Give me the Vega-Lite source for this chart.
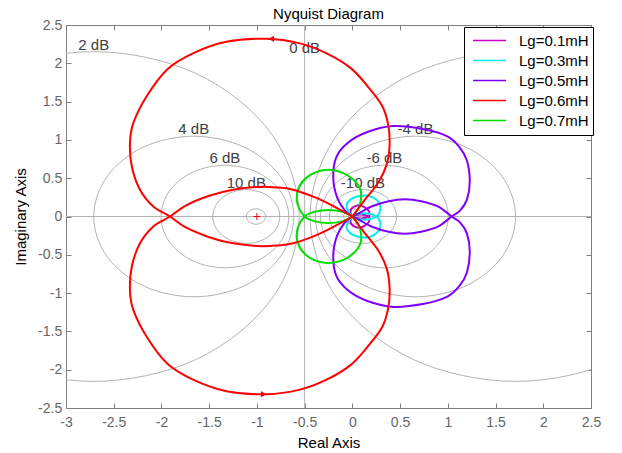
{
"$schema": "https://vega.github.io/schema/vega-lite/v6.json",
"width": 525,
"height": 383,
"autosize": {"type": "none"},
"padding": {"left": 66, "top": 25, "right": 31, "bottom": 45},
"background": "white",
"title": {"text": "Nyquist Diagram", "fontSize": 15, "fontWeight": "normal", "font": "Liberation Sans", "color": "black", "offset": 3.5, "dy": 7},
"config": {
  "view": {"stroke": "#7f7f7f", "strokeWidth": 1},
  "axis": {"grid": false, "domain": false, "tickColor": "#7f7f7f", "tickSize": -5, "labelFont": "Liberation Sans", "labelFontSize": 14, "labelColor": "#666666", "titleFont": "Liberation Sans", "titleFontSize": 15, "titleFontWeight": "normal", "titleColor": "black", "labelFlush": false, "labelOverlap": false}
},
"datasets": {
"grid": [
{"id":"p2","i":0,"x":-0.5574,"y":0},{"id":"p2","i":1,"x":-0.8457,"y":1.0762},{"id":"p2","i":2,"x":-1.6336,"y":1.8641},{"id":"p2","i":3,"x":-2.7098,"y":2.1524},{"id":"p2","i":4,"x":-3.786,"y":1.8641},{"id":"p2","i":5,"x":-4.5738,"y":1.0762},{"id":"p2","i":6,"x":-4.8622,"y":0},{"id":"p2","i":7,"x":-4.5738,"y":-1.0762},{"id":"p2","i":8,"x":-3.786,"y":-1.8641},{"id":"p2","i":9,"x":-2.7098,"y":-2.1524},{"id":"p2","i":10,"x":-1.6336,"y":-1.8641},{"id":"p2","i":11,"x":-0.8457,"y":-1.0762},
{"id":"m2","i":0,"x":3.8622,"y":0},{"id":"m2","i":1,"x":3.5738,"y":1.0762},{"id":"m2","i":2,"x":2.786,"y":1.8641},{"id":"m2","i":3,"x":1.7098,"y":2.1524},{"id":"m2","i":4,"x":0.6336,"y":1.8641},{"id":"m2","i":5,"x":-0.1543,"y":1.0762},{"id":"m2","i":6,"x":-0.4426,"y":0},{"id":"m2","i":7,"x":-0.1543,"y":-1.0762},{"id":"m2","i":8,"x":0.6336,"y":-1.8641},{"id":"m2","i":9,"x":1.7098,"y":-2.1524},{"id":"m2","i":10,"x":2.786,"y":-1.8641},{"id":"m2","i":11,"x":3.5738,"y":-1.0762},
{"id":"p4","i":0,"x":-0.6131,"y":0},{"id":"p4","i":1,"x":-0.7536,"y":0.5242},{"id":"p4","i":2,"x":-1.1373,"y":0.9079},{"id":"p4","i":3,"x":-1.6614,"y":1.0483},{"id":"p4","i":4,"x":-2.1856,"y":0.9079},{"id":"p4","i":5,"x":-2.5693,"y":0.5242},{"id":"p4","i":6,"x":-2.7097,"y":0},{"id":"p4","i":7,"x":-2.5693,"y":-0.5242},{"id":"p4","i":8,"x":-2.1856,"y":-0.9079},{"id":"p4","i":9,"x":-1.6614,"y":-1.0483},{"id":"p4","i":10,"x":-1.1373,"y":-0.9079},{"id":"p4","i":11,"x":-0.7536,"y":-0.5242},
{"id":"m4","i":0,"x":1.7097,"y":0},{"id":"m4","i":1,"x":1.5693,"y":0.5242},{"id":"m4","i":2,"x":1.1856,"y":0.9079},{"id":"m4","i":3,"x":0.6614,"y":1.0483},{"id":"m4","i":4,"x":0.1373,"y":0.9079},{"id":"m4","i":5,"x":-0.2464,"y":0.5242},{"id":"m4","i":6,"x":-0.3869,"y":0},{"id":"m4","i":7,"x":-0.2464,"y":-0.5242},{"id":"m4","i":8,"x":0.1373,"y":-0.9079},{"id":"m4","i":9,"x":0.6614,"y":-1.0483},{"id":"m4","i":10,"x":1.1856,"y":-0.9079},{"id":"m4","i":11,"x":1.5693,"y":-0.5242},
{"id":"p6","i":0,"x":-0.6661,"y":0},{"id":"p6","i":1,"x":-0.7558,"y":0.3347},{"id":"p6","i":2,"x":-1.0008,"y":0.5797},{"id":"p6","i":3,"x":-1.3355,"y":0.6693},{"id":"p6","i":4,"x":-1.6701,"y":0.5797},{"id":"p6","i":5,"x":-1.9151,"y":0.3347},{"id":"p6","i":6,"x":-2.0048,"y":0},{"id":"p6","i":7,"x":-1.9151,"y":-0.3347},{"id":"p6","i":8,"x":-1.6701,"y":-0.5797},{"id":"p6","i":9,"x":-1.3355,"y":-0.6693},{"id":"p6","i":10,"x":-1.0008,"y":-0.5797},{"id":"p6","i":11,"x":-0.7558,"y":-0.3347},
{"id":"m6","i":0,"x":1.0048,"y":0},{"id":"m6","i":1,"x":0.9151,"y":0.3347},{"id":"m6","i":2,"x":0.6701,"y":0.5797},{"id":"m6","i":3,"x":0.3355,"y":0.6693},{"id":"m6","i":4,"x":0.0008,"y":0.5797},{"id":"m6","i":5,"x":-0.2442,"y":0.3347},{"id":"m6","i":6,"x":-0.3339,"y":0},{"id":"m6","i":7,"x":-0.2442,"y":-0.3347},{"id":"m6","i":8,"x":0.0008,"y":-0.5797},{"id":"m6","i":9,"x":0.3355,"y":-0.6693},{"id":"m6","i":10,"x":0.6701,"y":-0.5797},{"id":"m6","i":11,"x":0.9151,"y":-0.3347},
{"id":"p10","i":0,"x":-0.7598,"y":0},{"id":"p10","i":1,"x":-0.8068,"y":0.1757},{"id":"p10","i":2,"x":-0.9354,"y":0.3043},{"id":"p10","i":3,"x":-1.1111,"y":0.3514},{"id":"p10","i":4,"x":-1.2868,"y":0.3043},{"id":"p10","i":5,"x":-1.4154,"y":0.1757},{"id":"p10","i":6,"x":-1.4625,"y":0},{"id":"p10","i":7,"x":-1.4154,"y":-0.1757},{"id":"p10","i":8,"x":-1.2868,"y":-0.3043},{"id":"p10","i":9,"x":-1.1111,"y":-0.3514},{"id":"p10","i":10,"x":-0.9354,"y":-0.3043},{"id":"p10","i":11,"x":-0.8068,"y":-0.1757},
{"id":"m10","i":0,"x":0.4625,"y":0},{"id":"m10","i":1,"x":0.4154,"y":0.1757},{"id":"m10","i":2,"x":0.2868,"y":0.3043},{"id":"m10","i":3,"x":0.1111,"y":0.3514},{"id":"m10","i":4,"x":-0.0646,"y":0.3043},{"id":"m10","i":5,"x":-0.1932,"y":0.1757},{"id":"m10","i":6,"x":-0.2402,"y":0},{"id":"m10","i":7,"x":-0.1932,"y":-0.1757},{"id":"m10","i":8,"x":-0.0646,"y":-0.3043},{"id":"m10","i":9,"x":0.1111,"y":-0.3514},{"id":"m10","i":10,"x":0.2868,"y":-0.3043},{"id":"m10","i":11,"x":0.4154,"y":-0.1757},
{"id":"p20","i":0,"x":-0.9091,"y":0},{"id":"p20","i":1,"x":-0.9226,"y":0.0505},{"id":"p20","i":2,"x":-0.9596,"y":0.0875},{"id":"p20","i":3,"x":-1.0101,"y":0.101},{"id":"p20","i":4,"x":-1.0606,"y":0.0875},{"id":"p20","i":5,"x":-1.0976,"y":0.0505},{"id":"p20","i":6,"x":-1.1111,"y":0},{"id":"p20","i":7,"x":-1.0976,"y":-0.0505},{"id":"p20","i":8,"x":-1.0606,"y":-0.0875},{"id":"p20","i":9,"x":-1.0101,"y":-0.101},{"id":"p20","i":10,"x":-0.9596,"y":-0.0875},{"id":"p20","i":11,"x":-0.9226,"y":-0.0505},
{"id":"m20","i":0,"x":0.1111,"y":0},{"id":"m20","i":1,"x":0.0976,"y":0.0505},{"id":"m20","i":2,"x":0.0606,"y":0.0875},{"id":"m20","i":3,"x":0.0101,"y":0.101},{"id":"m20","i":4,"x":-0.0404,"y":0.0875},{"id":"m20","i":5,"x":-0.0774,"y":0.0505},{"id":"m20","i":6,"x":-0.0909,"y":0},{"id":"m20","i":7,"x":-0.0774,"y":-0.0505},{"id":"m20","i":8,"x":-0.0404,"y":-0.0875},{"id":"m20","i":9,"x":0.0101,"y":-0.101},{"id":"m20","i":10,"x":0.0606,"y":-0.0875},{"id":"m20","i":11,"x":0.0976,"y":-0.0505}
],
"lines": [
{"id":"h","i":0,"x":-3,"y":0},{"id":"h","i":1,"x":2.5,"y":0},
{"id":"v","i":0,"x":-0.5,"y":-2.5},{"id":"v","i":1,"x":-0.5,"y":2.5}
],
"labels": [
{"t":"2 dB","x":-2.7098,"y":2.1524},
{"t":"0 dB","x":-0.5,"y":2.11},
{"t":"4 dB","x":-1.6614,"y":1.0483},
{"t":"6 dB","x":-1.3355,"y":0.6693},
{"t":"10 dB","x":-1.1111,"y":0.3514},
{"t":"-4 dB","x":0.6614,"y":1.0483},
{"t":"-6 dB","x":0.3355,"y":0.6693},
{"t":"-10 dB","x":0.1111,"y":0.3514}
],
"curves": [
{"s":"Lg=0.1mH","g":"a1","i":0,"x":0,"y":0},{"s":"Lg=0.1mH","g":"a1","i":1,"x":-0.02,"y":0.05},{"s":"Lg=0.1mH","g":"a1","i":2,"x":-0.01,"y":0.1},{"s":"Lg=0.1mH","g":"a1","i":3,"x":0.03,"y":0.135},{"s":"Lg=0.1mH","g":"a1","i":4,"x":0.08,"y":0.145},{"s":"Lg=0.1mH","g":"a1","i":5,"x":0.13,"y":0.12},{"s":"Lg=0.1mH","g":"a1","i":6,"x":0.17,"y":0.075},{"s":"Lg=0.1mH","g":"a1","i":7,"x":0.18,"y":0.03},{"s":"Lg=0.1mH","g":"a1","i":8,"x":0.17,"y":0},{"s":"Lg=0.1mH","g":"a1","i":9,"x":0.1,"y":-0.025},{"s":"Lg=0.1mH","g":"a1","i":10,"x":0.04,"y":-0.02},{"s":"Lg=0.1mH","g":"a1","i":11,"x":0,"y":0},
{"s":"Lg=0.1mH","g":"a2","i":0,"x":0,"y":0},{"s":"Lg=0.1mH","g":"a2","i":1,"x":0.04,"y":0.02},{"s":"Lg=0.1mH","g":"a2","i":2,"x":0.1,"y":0.025},{"s":"Lg=0.1mH","g":"a2","i":3,"x":0.17,"y":0},{"s":"Lg=0.1mH","g":"a2","i":4,"x":0.18,"y":-0.03},{"s":"Lg=0.1mH","g":"a2","i":5,"x":0.17,"y":-0.075},{"s":"Lg=0.1mH","g":"a2","i":6,"x":0.13,"y":-0.12},{"s":"Lg=0.1mH","g":"a2","i":7,"x":0.08,"y":-0.145},{"s":"Lg=0.1mH","g":"a2","i":8,"x":0.03,"y":-0.135},{"s":"Lg=0.1mH","g":"a2","i":9,"x":-0.01,"y":-0.1},{"s":"Lg=0.1mH","g":"a2","i":10,"x":-0.02,"y":-0.05},{"s":"Lg=0.1mH","g":"a2","i":11,"x":0,"y":0},
{"s":"Lg=0.3mH","g":"b1","i":0,"x":0,"y":0},{"s":"Lg=0.3mH","g":"b1","i":1,"x":-0.045,"y":0.07},{"s":"Lg=0.3mH","g":"b1","i":2,"x":-0.06,"y":0.15},{"s":"Lg=0.3mH","g":"b1","i":3,"x":-0.02,"y":0.22},{"s":"Lg=0.3mH","g":"b1","i":4,"x":0.05,"y":0.26},{"s":"Lg=0.3mH","g":"b1","i":5,"x":0.14,"y":0.275},{"s":"Lg=0.3mH","g":"b1","i":6,"x":0.22,"y":0.245},{"s":"Lg=0.3mH","g":"b1","i":7,"x":0.28,"y":0.18},{"s":"Lg=0.3mH","g":"b1","i":8,"x":0.295,"y":0.11},{"s":"Lg=0.3mH","g":"b1","i":9,"x":0.28,"y":0.04},{"s":"Lg=0.3mH","g":"b1","i":10,"x":0.25,"y":0},{"s":"Lg=0.3mH","g":"b1","i":11,"x":0.18,"y":-0.035},{"s":"Lg=0.3mH","g":"b1","i":12,"x":0.1,"y":-0.04},{"s":"Lg=0.3mH","g":"b1","i":13,"x":0.04,"y":-0.025},{"s":"Lg=0.3mH","g":"b1","i":14,"x":0,"y":0},
{"s":"Lg=0.3mH","g":"b2","i":0,"x":0,"y":0},{"s":"Lg=0.3mH","g":"b2","i":1,"x":0.04,"y":0.025},{"s":"Lg=0.3mH","g":"b2","i":2,"x":0.1,"y":0.04},{"s":"Lg=0.3mH","g":"b2","i":3,"x":0.18,"y":0.035},{"s":"Lg=0.3mH","g":"b2","i":4,"x":0.25,"y":0},{"s":"Lg=0.3mH","g":"b2","i":5,"x":0.28,"y":-0.04},{"s":"Lg=0.3mH","g":"b2","i":6,"x":0.295,"y":-0.11},{"s":"Lg=0.3mH","g":"b2","i":7,"x":0.28,"y":-0.18},{"s":"Lg=0.3mH","g":"b2","i":8,"x":0.22,"y":-0.245},{"s":"Lg=0.3mH","g":"b2","i":9,"x":0.14,"y":-0.275},{"s":"Lg=0.3mH","g":"b2","i":10,"x":0.05,"y":-0.26},{"s":"Lg=0.3mH","g":"b2","i":11,"x":-0.02,"y":-0.22},{"s":"Lg=0.3mH","g":"b2","i":12,"x":-0.06,"y":-0.15},{"s":"Lg=0.3mH","g":"b2","i":13,"x":-0.045,"y":-0.07},{"s":"Lg=0.3mH","g":"b2","i":14,"x":0,"y":0},
{"s":"Lg=0.5mH","g":"c1","i":0,"x":0,"y":0},{"s":"Lg=0.5mH","g":"c1","i":1,"x":-0.08,"y":0.08},{"s":"Lg=0.5mH","g":"c1","i":2,"x":-0.16,"y":0.25},{"s":"Lg=0.5mH","g":"c1","i":3,"x":-0.2,"y":0.5},{"s":"Lg=0.5mH","g":"c1","i":4,"x":-0.17,"y":0.77},{"s":"Lg=0.5mH","g":"c1","i":5,"x":-0.05,"y":0.96},{"s":"Lg=0.5mH","g":"c1","i":6,"x":0.15,"y":1.1},{"s":"Lg=0.5mH","g":"c1","i":7,"x":0.43,"y":1.18},{"s":"Lg=0.5mH","g":"c1","i":8,"x":0.75,"y":1.14},{"s":"Lg=0.5mH","g":"c1","i":9,"x":0.99,"y":1.05},{"s":"Lg=0.5mH","g":"c1","i":10,"x":1.12,"y":0.91},{"s":"Lg=0.5mH","g":"c1","i":11,"x":1.2,"y":0.73},{"s":"Lg=0.5mH","g":"c1","i":12,"x":1.23,"y":0.46},{"s":"Lg=0.5mH","g":"c1","i":13,"x":1.2,"y":0.22},{"s":"Lg=0.5mH","g":"c1","i":14,"x":1.13,"y":0.08},{"s":"Lg=0.5mH","g":"c1","i":15,"x":1.04,"y":0},{"s":"Lg=0.5mH","g":"c1","i":16,"x":0.9,"y":-0.13},{"s":"Lg=0.5mH","g":"c1","i":17,"x":0.72,"y":-0.2},{"s":"Lg=0.5mH","g":"c1","i":18,"x":0.55,"y":-0.225},{"s":"Lg=0.5mH","g":"c1","i":19,"x":0.38,"y":-0.2},{"s":"Lg=0.5mH","g":"c1","i":20,"x":0.2,"y":-0.13},{"s":"Lg=0.5mH","g":"c1","i":21,"x":0.08,"y":-0.05},{"s":"Lg=0.5mH","g":"c1","i":22,"x":0,"y":0},
{"s":"Lg=0.5mH","g":"c2","i":0,"x":0,"y":0},{"s":"Lg=0.5mH","g":"c2","i":1,"x":0.08,"y":0.05},{"s":"Lg=0.5mH","g":"c2","i":2,"x":0.2,"y":0.13},{"s":"Lg=0.5mH","g":"c2","i":3,"x":0.38,"y":0.2},{"s":"Lg=0.5mH","g":"c2","i":4,"x":0.55,"y":0.225},{"s":"Lg=0.5mH","g":"c2","i":5,"x":0.72,"y":0.2},{"s":"Lg=0.5mH","g":"c2","i":6,"x":0.9,"y":0.13},{"s":"Lg=0.5mH","g":"c2","i":7,"x":1.04,"y":0},{"s":"Lg=0.5mH","g":"c2","i":8,"x":1.13,"y":-0.08},{"s":"Lg=0.5mH","g":"c2","i":9,"x":1.2,"y":-0.22},{"s":"Lg=0.5mH","g":"c2","i":10,"x":1.23,"y":-0.46},{"s":"Lg=0.5mH","g":"c2","i":11,"x":1.2,"y":-0.73},{"s":"Lg=0.5mH","g":"c2","i":12,"x":1.12,"y":-0.91},{"s":"Lg=0.5mH","g":"c2","i":13,"x":0.99,"y":-1.05},{"s":"Lg=0.5mH","g":"c2","i":14,"x":0.75,"y":-1.14},{"s":"Lg=0.5mH","g":"c2","i":15,"x":0.43,"y":-1.18},{"s":"Lg=0.5mH","g":"c2","i":16,"x":0.15,"y":-1.1},{"s":"Lg=0.5mH","g":"c2","i":17,"x":-0.05,"y":-0.96},{"s":"Lg=0.5mH","g":"c2","i":18,"x":-0.17,"y":-0.77},{"s":"Lg=0.5mH","g":"c2","i":19,"x":-0.2,"y":-0.5},{"s":"Lg=0.5mH","g":"c2","i":20,"x":-0.16,"y":-0.25},{"s":"Lg=0.5mH","g":"c2","i":21,"x":-0.08,"y":-0.08},{"s":"Lg=0.5mH","g":"c2","i":22,"x":0,"y":0},
{"s":"Lg=0.7mH","g":"e1","i":0,"x":0,"y":0},{"s":"Lg=0.7mH","g":"e1","i":1,"x":0.06,"y":0.1},{"s":"Lg=0.7mH","g":"e1","i":2,"x":0.09,"y":0.22},{"s":"Lg=0.7mH","g":"e1","i":3,"x":0.085,"y":0.35},{"s":"Lg=0.7mH","g":"e1","i":4,"x":0.02,"y":0.47},{"s":"Lg=0.7mH","g":"e1","i":5,"x":-0.1,"y":0.57},{"s":"Lg=0.7mH","g":"e1","i":6,"x":-0.25,"y":0.61},{"s":"Lg=0.7mH","g":"e1","i":7,"x":-0.4,"y":0.57},{"s":"Lg=0.7mH","g":"e1","i":8,"x":-0.52,"y":0.46},{"s":"Lg=0.7mH","g":"e1","i":9,"x":-0.58,"y":0.3},{"s":"Lg=0.7mH","g":"e1","i":10,"x":-0.57,"y":0.14},{"s":"Lg=0.7mH","g":"e1","i":11,"x":-0.5,"y":0},{"s":"Lg=0.7mH","g":"e1","i":12,"x":-0.4,"y":-0.06},{"s":"Lg=0.7mH","g":"e1","i":13,"x":-0.25,"y":-0.085},{"s":"Lg=0.7mH","g":"e1","i":14,"x":-0.1,"y":-0.06},{"s":"Lg=0.7mH","g":"e1","i":15,"x":0,"y":0},
{"s":"Lg=0.7mH","g":"e2","i":0,"x":0,"y":0},{"s":"Lg=0.7mH","g":"e2","i":1,"x":-0.1,"y":0.06},{"s":"Lg=0.7mH","g":"e2","i":2,"x":-0.25,"y":0.085},{"s":"Lg=0.7mH","g":"e2","i":3,"x":-0.4,"y":0.06},{"s":"Lg=0.7mH","g":"e2","i":4,"x":-0.5,"y":0},{"s":"Lg=0.7mH","g":"e2","i":5,"x":-0.57,"y":-0.14},{"s":"Lg=0.7mH","g":"e2","i":6,"x":-0.58,"y":-0.3},{"s":"Lg=0.7mH","g":"e2","i":7,"x":-0.52,"y":-0.46},{"s":"Lg=0.7mH","g":"e2","i":8,"x":-0.4,"y":-0.57},{"s":"Lg=0.7mH","g":"e2","i":9,"x":-0.25,"y":-0.61},{"s":"Lg=0.7mH","g":"e2","i":10,"x":-0.1,"y":-0.57},{"s":"Lg=0.7mH","g":"e2","i":11,"x":0.02,"y":-0.47},{"s":"Lg=0.7mH","g":"e2","i":12,"x":0.085,"y":-0.35},{"s":"Lg=0.7mH","g":"e2","i":13,"x":0.09,"y":-0.22},{"s":"Lg=0.7mH","g":"e2","i":14,"x":0.06,"y":-0.1},{"s":"Lg=0.7mH","g":"e2","i":15,"x":0,"y":0},
{"s":"Lg=0.6mH","g":"d1","i":0,"x":0,"y":0},{"s":"Lg=0.6mH","g":"d1","i":1,"x":0.12,"y":0.2},{"s":"Lg=0.6mH","g":"d1","i":2,"x":0.27,"y":0.44},{"s":"Lg=0.6mH","g":"d1","i":3,"x":0.36,"y":0.68},{"s":"Lg=0.6mH","g":"d1","i":4,"x":0.39,"y":0.93},{"s":"Lg=0.6mH","g":"d1","i":5,"x":0.375,"y":1.2},{"s":"Lg=0.6mH","g":"d1","i":6,"x":0.31,"y":1.45},{"s":"Lg=0.6mH","g":"d1","i":7,"x":0.16,"y":1.7},{"s":"Lg=0.6mH","g":"d1","i":8,"x":-0.02,"y":1.94},{"s":"Lg=0.6mH","g":"d1","i":9,"x":-0.27,"y":2.13},{"s":"Lg=0.6mH","g":"d1","i":10,"x":-0.55,"y":2.26},{"s":"Lg=0.6mH","g":"d1","i":11,"x":-0.9,"y":2.32},{"s":"Lg=0.6mH","g":"d1","i":12,"x":-1.32,"y":2.28},{"s":"Lg=0.6mH","g":"d1","i":13,"x":-1.67,"y":2.13},{"s":"Lg=0.6mH","g":"d1","i":14,"x":-1.94,"y":1.92},{"s":"Lg=0.6mH","g":"d1","i":15,"x":-2.155,"y":1.57},{"s":"Lg=0.6mH","g":"d1","i":16,"x":-2.295,"y":1.22},{"s":"Lg=0.6mH","g":"d1","i":17,"x":-2.33,"y":0.96},{"s":"Lg=0.6mH","g":"d1","i":18,"x":-2.31,"y":0.65},{"s":"Lg=0.6mH","g":"d1","i":19,"x":-2.225,"y":0.35},{"s":"Lg=0.6mH","g":"d1","i":20,"x":-2.085,"y":0.13},{"s":"Lg=0.6mH","g":"d1","i":21,"x":-1.91,"y":0},{"s":"Lg=0.6mH","g":"d1","i":22,"x":-1.75,"y":-0.14},{"s":"Lg=0.6mH","g":"d1","i":23,"x":-1.5,"y":-0.27},{"s":"Lg=0.6mH","g":"d1","i":24,"x":-1.25,"y":-0.35},{"s":"Lg=0.6mH","g":"d1","i":25,"x":-1.0,"y":-0.385},{"s":"Lg=0.6mH","g":"d1","i":26,"x":-0.8,"y":-0.38},{"s":"Lg=0.6mH","g":"d1","i":27,"x":-0.62,"y":-0.35},{"s":"Lg=0.6mH","g":"d1","i":28,"x":-0.37,"y":-0.24},{"s":"Lg=0.6mH","g":"d1","i":29,"x":-0.16,"y":-0.11},{"s":"Lg=0.6mH","g":"d1","i":30,"x":0,"y":0},
{"s":"Lg=0.6mH","g":"d2","i":0,"x":0,"y":0},{"s":"Lg=0.6mH","g":"d2","i":1,"x":-0.16,"y":0.11},{"s":"Lg=0.6mH","g":"d2","i":2,"x":-0.37,"y":0.24},{"s":"Lg=0.6mH","g":"d2","i":3,"x":-0.62,"y":0.35},{"s":"Lg=0.6mH","g":"d2","i":4,"x":-0.8,"y":0.38},{"s":"Lg=0.6mH","g":"d2","i":5,"x":-1.0,"y":0.385},{"s":"Lg=0.6mH","g":"d2","i":6,"x":-1.25,"y":0.35},{"s":"Lg=0.6mH","g":"d2","i":7,"x":-1.5,"y":0.27},{"s":"Lg=0.6mH","g":"d2","i":8,"x":-1.75,"y":0.14},{"s":"Lg=0.6mH","g":"d2","i":9,"x":-1.91,"y":0},{"s":"Lg=0.6mH","g":"d2","i":10,"x":-2.085,"y":-0.13},{"s":"Lg=0.6mH","g":"d2","i":11,"x":-2.225,"y":-0.35},{"s":"Lg=0.6mH","g":"d2","i":12,"x":-2.31,"y":-0.65},{"s":"Lg=0.6mH","g":"d2","i":13,"x":-2.33,"y":-0.96},{"s":"Lg=0.6mH","g":"d2","i":14,"x":-2.295,"y":-1.22},{"s":"Lg=0.6mH","g":"d2","i":15,"x":-2.155,"y":-1.57},{"s":"Lg=0.6mH","g":"d2","i":16,"x":-1.94,"y":-1.92},{"s":"Lg=0.6mH","g":"d2","i":17,"x":-1.67,"y":-2.13},{"s":"Lg=0.6mH","g":"d2","i":18,"x":-1.32,"y":-2.28},{"s":"Lg=0.6mH","g":"d2","i":19,"x":-0.9,"y":-2.32},{"s":"Lg=0.6mH","g":"d2","i":20,"x":-0.55,"y":-2.26},{"s":"Lg=0.6mH","g":"d2","i":21,"x":-0.27,"y":-2.13},{"s":"Lg=0.6mH","g":"d2","i":22,"x":-0.02,"y":-1.94},{"s":"Lg=0.6mH","g":"d2","i":23,"x":0.16,"y":-1.7},{"s":"Lg=0.6mH","g":"d2","i":24,"x":0.31,"y":-1.45},{"s":"Lg=0.6mH","g":"d2","i":25,"x":0.375,"y":-1.2},{"s":"Lg=0.6mH","g":"d2","i":26,"x":0.39,"y":-0.93},{"s":"Lg=0.6mH","g":"d2","i":27,"x":0.36,"y":-0.68},{"s":"Lg=0.6mH","g":"d2","i":28,"x":0.27,"y":-0.44},{"s":"Lg=0.6mH","g":"d2","i":29,"x":0.12,"y":-0.2},{"s":"Lg=0.6mH","g":"d2","i":30,"x":0,"y":0}
],
"arrows": [
{"dir":"left","x":-0.85,"y":2.32},
{"dir":"right","x":-0.93,"y":-2.32}
],
"critical": [
{"x":-1,"y":0}
]
},
"layer": [
{
 "data": {"name": "grid"},
 "mark": {"type": "line", "interpolate": "cardinal-closed", "stroke": "#b3b3b3", "strokeWidth": 1, "clip": true},
 "encoding": {
  "x": {"field": "x", "type": "quantitative", "scale": {"domain": [-3, 2.5], "nice": false, "zero": false},
        "axis": {"orient": "bottom", "title": "Real Axis", "values": [-3,-2.5,-2,-1.5,-1,-0.5,0,0.5,1,1.5,2,2.5], "labelExpr": "toString(datum.value)", "labelPadding": 12.7, "titlePadding": 6}},
  "y": {"field": "y", "type": "quantitative", "scale": {"domain": [-2.5, 2.5], "nice": false, "zero": false},
        "axis": {"orient": "left", "title": "Imaginary Axis", "values": [-2.5,-2,-1.5,-1,-0.5,0,0.5,1,1.5,2,2.5], "labelExpr": "toString(datum.value)", "labelPadding": 9.3, "titlePadding": 9}},
  "detail": {"field": "id"},
  "order": {"field": "i", "type": "quantitative"}
 }
},
{
 "data": {"name": "lines"},
 "mark": {"type": "line", "stroke": "#b3b3b3", "strokeWidth": 1, "clip": true},
 "encoding": {
  "x": {"field": "x", "type": "quantitative", "scale": {"domain": [-3, 2.5], "nice": false, "zero": false}, "axis": null},
  "y": {"field": "y", "type": "quantitative", "scale": {"domain": [-2.5, 2.5], "nice": false, "zero": false}, "axis": null},
  "detail": {"field": "id"},
  "order": {"field": "i", "type": "quantitative"}
 }
},
{
 "data": {"name": "labels"},
 "mark": {"type": "text", "align": "center", "baseline": "alphabetic", "dy": -2, "font": "Liberation Sans", "fontSize": 15, "color": "#404040"},
 "encoding": {
  "x": {"field": "x", "type": "quantitative", "scale": {"domain": [-3, 2.5], "nice": false, "zero": false}, "axis": null},
  "y": {"field": "y", "type": "quantitative", "scale": {"domain": [-2.5, 2.5], "nice": false, "zero": false}, "axis": null},
  "text": {"field": "t"}
 }
},
{
 "data": {"name": "curves"},
 "mark": {"type": "line", "interpolate": "cardinal", "strokeWidth": 2, "clip": true},
 "encoding": {
  "x": {"field": "x", "type": "quantitative", "scale": {"domain": [-3, 2.5], "nice": false, "zero": false}, "axis": null},
  "y": {"field": "y", "type": "quantitative", "scale": {"domain": [-2.5, 2.5], "nice": false, "zero": false}, "axis": null},
  "color": {"field": "s", "type": "nominal",
   "scale": {"domain": ["Lg=0.1mH","Lg=0.3mH","Lg=0.5mH","Lg=0.6mH","Lg=0.7mH"], "range": ["#c800c8","#00eeee","#7f00ff","#ff0000","#00e000"]},
   "legend": {"orient": "none", "legendX": 398, "legendY": 2, "title": null, "symbolType": "stroke", "symbolSize": 1089, "symbolStrokeWidth": 1.5, "clipHeight": 19.2, "rowPadding": 0, "labelFont": "Liberation Sans", "labelFontSize": 15, "labelColor": "black", "labelOffset": 12, "symbolOffset": 4, "padding": 4, "strokeColor": "black", "fillColor": "white"}},
  "detail": {"field": "g"},
  "order": {"field": "i", "type": "quantitative"}
 }
},
{
 "data": {"name": "arrows"},
 "mark": {"type": "point", "filled": true, "size": 40, "color": "#ff0000", "opacity": 1, "clip": true},
 "encoding": {
  "x": {"field": "x", "type": "quantitative", "scale": {"domain": [-3, 2.5], "nice": false, "zero": false}, "axis": null},
  "y": {"field": "y", "type": "quantitative", "scale": {"domain": [-2.5, 2.5], "nice": false, "zero": false}, "axis": null},
  "shape": {"field": "dir", "type": "nominal", "scale": {"domain": ["left","right"], "range": ["triangle-left","triangle-right"]}, "legend": null}
 }
},
{
 "data": {"name": "critical"},
 "mark": {"type": "point", "shape": "M-1,0H1M0,-1V1", "filled": false, "size": 49, "stroke": "#ff0000", "strokeWidth": 1, "opacity": 1},
 "encoding": {
  "x": {"field": "x", "type": "quantitative", "scale": {"domain": [-3, 2.5], "nice": false, "zero": false},
        "axis": {"orient": "top", "labels": false, "title": null, "values": [-3,-2.5,-2,-1.5,-1,-0.5,0,0.5,1,1.5,2,2.5]}},
  "y": {"field": "y", "type": "quantitative", "scale": {"domain": [-2.5, 2.5], "nice": false, "zero": false},
        "axis": {"orient": "right", "labels": false, "title": null, "values": [-2.5,-2,-1.5,-1,-0.5,0,0.5,1,1.5,2,2.5]}}
 }
}
],
"resolve": {"axis": {"x": "independent", "y": "independent"}}
}
